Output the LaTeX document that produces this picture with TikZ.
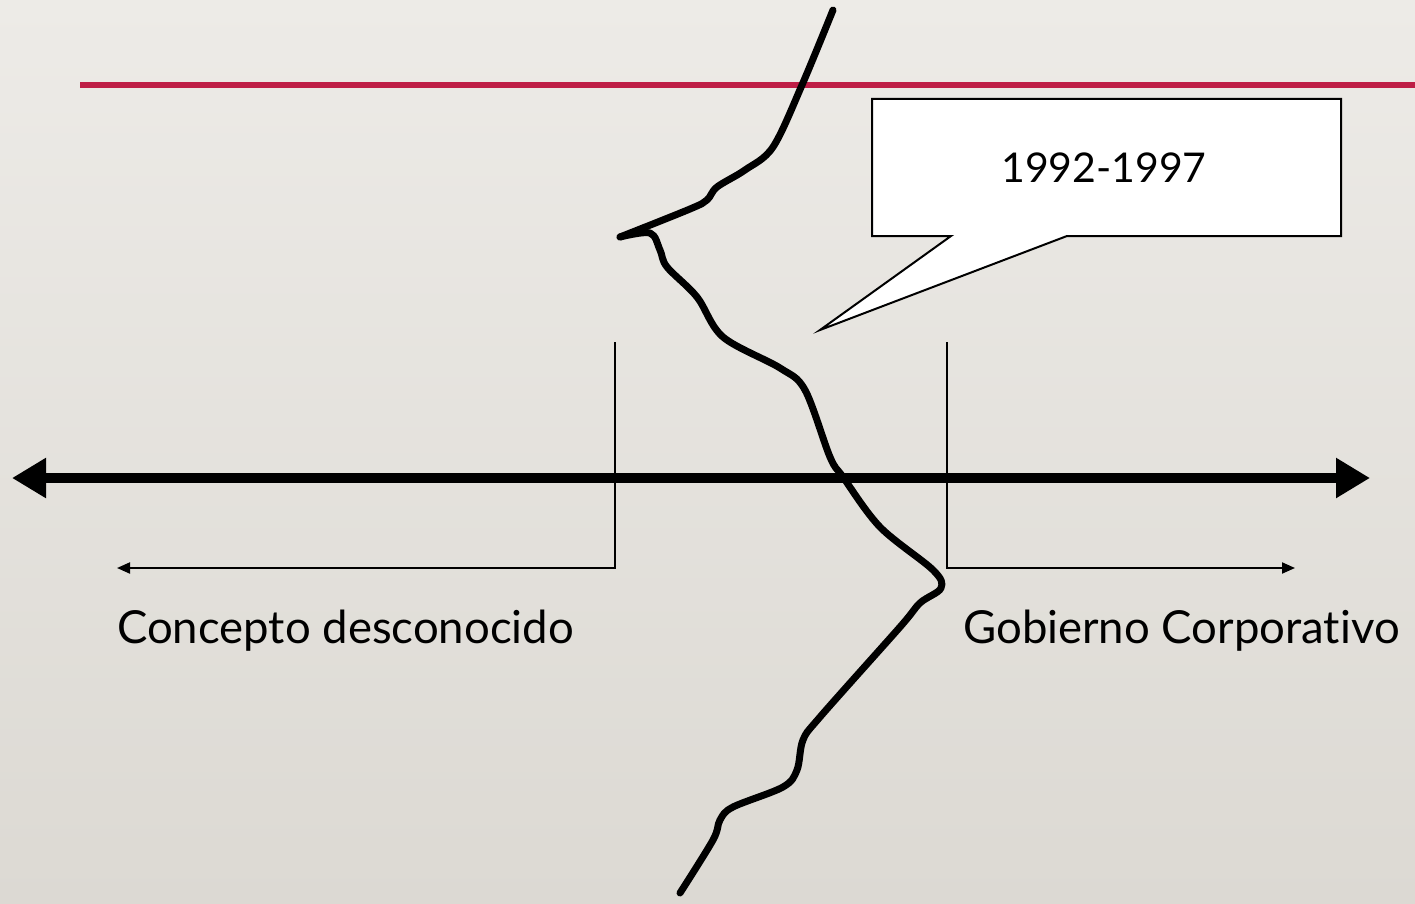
\documentclass[tikz,border=0pt]{standalone}
\usepackage{fontspec}
\setmainfont{Lato}[Ligatures=NoCommon]
\usetikzlibrary{arrows.meta}
\definecolor{bgtop}{RGB}{237,235,231}
\definecolor{bgbot}{RGB}{220,217,211}
\definecolor{redline}{RGB}{190,30,70}
\tikzset{
  thinline/.style={line width=2pt, black},
  bigarrow/.style={line width=10pt, black, {Triangle[length=34pt,width=38pt]}-{Triangle[length=34pt,width=38pt]}},
  smallarrow/.style={thinline, -{Triangle[length=13pt,width=11pt]}},
  wave/.style={line width=7pt, black, line cap=round, line join=round},
  lbl/.style={font=\fontsize{45.5}{52}\selectfont, inner sep=0pt, anchor=base west},
}
\begin{document}
\begin{tikzpicture}[x=1pt,y=-1pt]
\shade[top color=bgtop, bottom color=bgbot] (0,0) rectangle (1415,904);
\useasboundingbox (0,0) rectangle (1415,904);
% red rule
\coordinate (rA) at (80,85);
\coordinate (rB) at (1415,85);
\draw[redline, line width=6pt] (rA) -- (rB);
% main axis
\coordinate (axL) at (12,478);
\coordinate (axR) at (1370,478);
\draw[bigarrow] (axL) -- (axR);
% brackets
\coordinate (lTop) at (615,342);
\coordinate (lEnd) at (117,568);
\coordinate (rTop) at (947,342);
\coordinate (rEnd) at (1295,568);
\draw[smallarrow] (lTop) |- (lEnd);
\draw[smallarrow] (rTop) |- (rEnd);
% labels
\node[lbl] (cd) at (117,643) {Concepto desconocido};
\node[lbl] (gc) at (963,643) {Gobierno Corporativo};
% callout
\draw[thinline, fill=white, line join=miter] (872,99) -- (1341,99) -- (1341,236) -- (1067,236) -- (820,330) -- (951,236) -- (872,236) -- cycle;
\node[font=\fontsize{41}{48}\selectfont, inner sep=0pt] (yr) at (1104,168) {1992-1997};
% wavy line
\draw[wave] plot[smooth, tension=0.55] coordinates {
 (833,10) (802,85) (773,147) (745,170) (717,187) (707,200) (690,209) (620,237)};
\draw[wave] plot[smooth, tension=0.55] coordinates {
 (620,237) (650,233) (660,250) (667,267) (697,297) (723,337) (780,368) (805,390)
 (830,457) (843,477) (880,527) (933,570) (941,588) (920,603) (900,627) (820,717)
 (803,740) (797,770) (783,787) (733,807) (720,820) (713,840) (680,893)};
\end{tikzpicture}
\end{document}
